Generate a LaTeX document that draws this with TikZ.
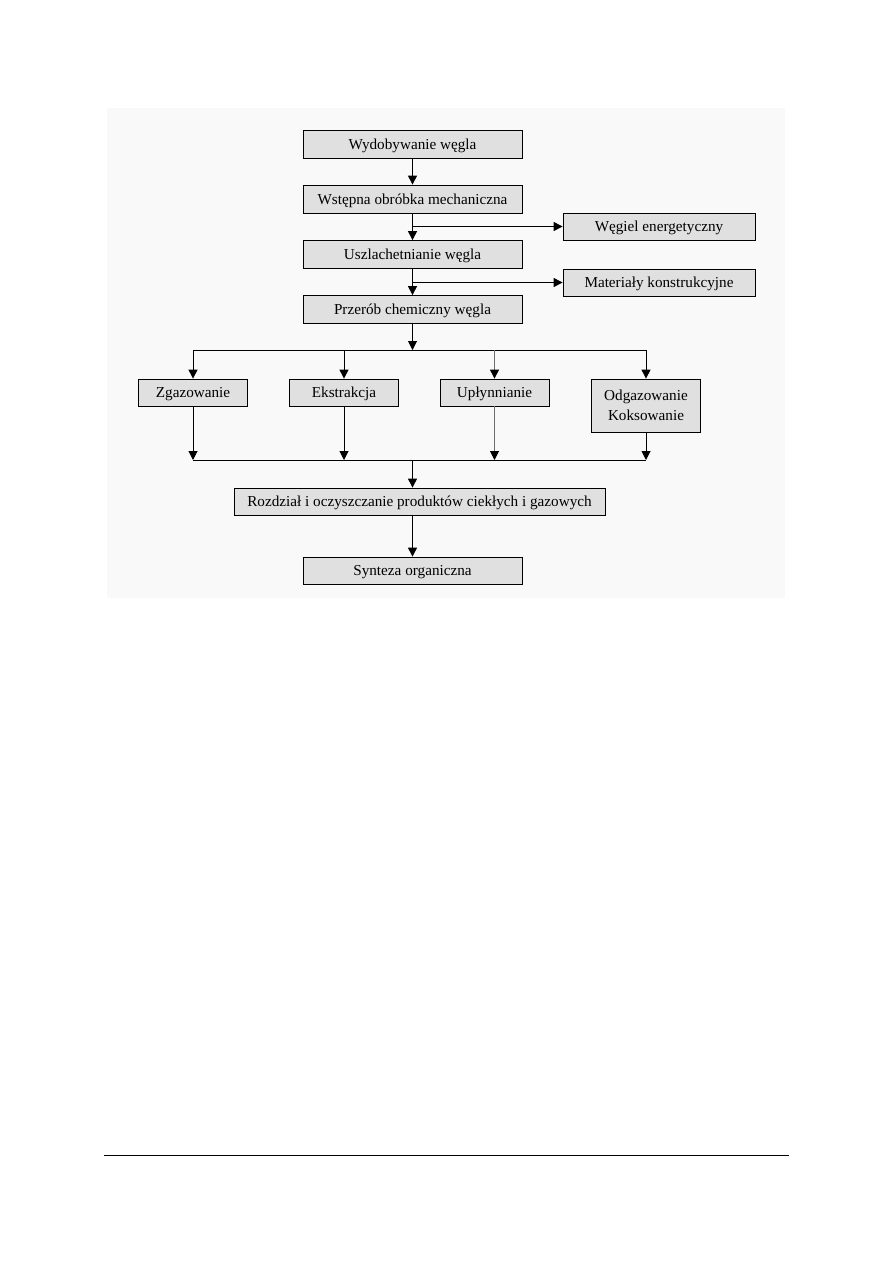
\documentclass[tikz,border=0pt]{standalone}
\usepackage{fontspec}
\setmainfont{Liberation Serif}
\definecolor{boxgray}{RGB}{224,224,224}
\definecolor{bggray}{RGB}{249,249,249}
\definecolor{linegray}{RGB}{110,110,110}
\usetikzlibrary{arrows.meta,positioning}

\begin{document}
\begin{tikzpicture}[x=1pt, y=-1pt,
  plain/.style={draw, fill=boxgray, line width=0.8pt, minimum width=219pt, minimum height=28pt, inner sep=0pt, align=center, font=\fontsize{15.2}{20}\selectfont},
  box/.style={plain, text height=12pt, text depth=1.5pt},
  sidebox/.style={box, minimum width=192pt, minimum height=27pt},
  smallbox/.style={box, minimum width=109pt, minimum height=27pt},
  link/.style={-{Triangle[length=9pt,width=9pt]}, line width=1pt},
  bar/.style={line width=1pt}]
  \useasboundingbox (0,0) rectangle (893,1263);
  \fill[white] (0,0) rectangle (893,1263);
  % background of the figure
  \fill[bggray] (107,108) rectangle (785,598);
  % main column
  \node[box] (wyd) at (412.5,144) {Wydobywanie węgla};
  \node[box] (wst) at (412.5,199) {Wstępna obróbka mechaniczna};
  \node[box] (usz) at (412.5,254.5) {Uszlachetnianie węgla};
  \node[box] (prz) at (412.5,309.5) {Przerób chemiczny węgla};
  \node[sidebox] (wen) at (659,226.5) {Węgiel energetyczny};
  \node[sidebox] (mat) at (659,282.5) {Materiały konstrukcyjne};
  % processes
  \node[smallbox] (zga) at (193,392.5) {Zgazowanie};
  \node[smallbox] (eks) at (344,392.5) {Ekstrakcja};
  \node[smallbox] (upl) at (494.5,392.5) {Upłynnianie};
  \node[plain, minimum width=109pt, minimum height=53pt] (odg) at (646,405.5) {Odgazowanie\\Koksowanie};
  \node[box, minimum width=371pt, minimum height=27pt] (roz) at (419.5,501.5) {Rozdział i oczyszczanie produktów ciekłych i gazowych};
  \node[box, minimum height=27pt] (syn) at (412.5,570.5) {Synteza organiczna};
  \coordinate (b1) at (wst.south |- wen.west);
  \coordinate (b2) at (usz.south |- mat.west);
  \coordinate (split) at (412.5,350);
  \coordinate (join) at (412.5,460);
  % arrows
  \draw[link] (wyd) -- (wst);
  \draw[link] (wst) -- (usz);
  \draw[link] (b1) -- (wen);
  \draw[link] (usz) -- (prz);
  \draw[link] (b2) -- (mat);
  \draw[link] (prz) -- (split);
  \draw[bar] (zga.north |- split) -- (odg.north |- split);
  \foreach \n in {zga,eks,odg}
    \draw[link] (\n.north |- split) -- (\n);
  \draw[link, draw=linegray, -{Triangle[length=9pt,width=9pt,black]}] (upl.north |- split) -- (upl);
  \foreach \n in {zga,eks,odg}
    \draw[link] (\n) -- (\n.south |- join);
  \draw[link, draw=linegray, -{Triangle[length=9pt,width=9pt,black]}] (upl) -- (upl.south |- join);
  \draw[bar] (zga.south |- join) -- (odg.south |- join);
  \draw[link] (join) -- (join |- roz.north);
  \draw[link] (syn.north |- roz.south) -- (syn);
  % footer rule
  \draw[line width=1pt] (104,1155) -- (789,1155);
\end{tikzpicture}
\end{document}
